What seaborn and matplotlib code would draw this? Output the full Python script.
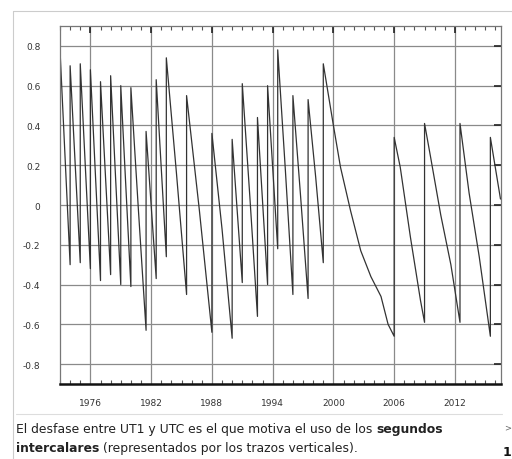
import matplotlib
matplotlib.use("Agg")
import matplotlib.pyplot as plt
from matplotlib.lines import Line2D
from matplotlib.ticker import MultipleLocator, FixedLocator
import seaborn as sns
import pandas as pd

# UT1-UTC (s); repeated years mark the leap-second jumps (before, after)
years = [1973.0, 1974.0, 1974.0, 1975.0, 1975.0, 1976.0, 1976.0, 1977.0, 1977.0,
         1978.0, 1978.0, 1979.0, 1979.0, 1980.0, 1980.0, 1980.75, 1981.5, 1981.5,
         1982.5, 1982.5, 1983.5, 1983.5, 1984.5, 1985.5, 1985.5, 1986.75, 1988.0,
         1988.0, 1989.0, 1990.0, 1990.0, 1991.0, 1991.0, 1991.75, 1992.5, 1992.5,
         1993.5, 1993.5, 1994.5, 1994.5, 1995.25, 1996.0, 1996.0, 1996.75, 1997.5,
         1997.5, 1998.25, 1999.0, 1999.0, 2000.0, 2000.7, 2001.7, 2002.7, 2003.7,
         2004.7, 2005.4, 2006.0, 2006.0, 2006.6, 2007.6, 2008.6, 2009.0, 2009.0,
         2009.6, 2010.6, 2011.6, 2012.5, 2012.5, 2013.4, 2014.4, 2015.5, 2015.5,
         2016.5]
dut1 = [0.78, -0.30, 0.70, -0.29, 0.71, -0.32, 0.68, -0.38, 0.62,
        -0.35, 0.65, -0.40, 0.60, -0.41, 0.59, -0.03, -0.63, 0.37,
        -0.37, 0.63, -0.26, 0.74, 0.16, -0.45, 0.55, -0.02, -0.64,
        0.36, -0.12, -0.67, 0.33, -0.39, 0.61, 0.04, -0.56, 0.44,
        -0.40, 0.60, -0.22, 0.78, 0.18, -0.45, 0.55, 0.05, -0.47,
        0.53, 0.14, -0.29, 0.71, 0.40, 0.19, -0.03, -0.23, -0.36,
        -0.46, -0.60, -0.66, 0.34, 0.19, -0.16, -0.48, -0.59, 0.41,
        0.24, -0.05, -0.30, -0.59, 0.41, 0.06, -0.26, -0.66, 0.34,
        0.03]

x_major = [1976, 1982, 1988, 1994, 2000, 2006, 2012]
y_major = [-0.8, -0.6, -0.4, -0.2, 0, 0.2, 0.4, 0.6, 0.8]
y_labels = ["-0.8", "-0.6", "-0.4", "-0.2", "0", "0.2", "0.4", "0.6", "0.8"]

caption1 = "El desfase entre UT1 y UTC es el que motiva el uso de los "
caption1b = "segundos"
caption2b = "intercalares"
caption2 = " (representados por los trazos verticales)."

sns.set_style("white")
plt.rcParams['font.family'] = ['DejaVu Sans']

fig = plt.figure(figsize=(5.12, 4.60), dpi=100)
ax = fig.add_axes([60/512, 1-385/460, 441/512, 358/460])

df = pd.DataFrame({"year": years, "dut1": dut1})
sns.lineplot(data=df, x="year", y="dut1", estimator=None, sort=False,
             color="#333333", lw=0.9, ax=ax)

ax.set_xlim(1973.0, 2016.55)
ax.set_ylim(-0.9, 0.9)
ax.xaxis.set_major_locator(FixedLocator(x_major))
ax.xaxis.set_minor_locator(MultipleLocator(1))
ax.set_yticks(y_major)
ax.set_yticklabels(y_labels)
ax.set_xlabel("")
ax.set_ylabel("")
ax.grid(True, which="major", color="#8a8a8a", lw=0.9)
ax.tick_params(axis="both", which="major", direction="in", length=5, width=1.2,
               colors="#222222", labelsize=6.5, labelcolor="#333333",
               top=True, right=True)
ax.tick_params(axis="y", which="major", pad=14)
ax.tick_params(axis="x", which="major", pad=10)
ax.tick_params(axis="x", which="minor", direction="in", length=3, width=0.8,
               colors="#555555", top=True, bottom=True)
for s in ["left", "top", "right"]:
    ax.spines[s].set_color("#777777")
    ax.spines[s].set_linewidth(0.9)
ax.spines["bottom"].set_color("#111111")
ax.spines["bottom"].set_linewidth(1.8)

# thumbnail frame
fig.add_artist(Line2D([13/512, 1.0], [1-12/460, 1-12/460], color="#cccccc", lw=0.8))
fig.add_artist(Line2D([13/512, 13/512], [1-12/460, 0.0], color="#cccccc", lw=0.8))
fig.add_artist(Line2D([16/512, 502/512], [1-415/460, 1-415/460], color="#dddddd", lw=0.8))

fs = 8.9
t1 = fig.text(16/512, 1-430/460, caption1, fontsize=fs, color="#222222", va="center")
ax.annotate(caption1b, xy=(1, 0), xycoords=t1, va="bottom", ha="left",
            fontsize=fs, fontweight="bold", color="#222222", annotation_clip=False)
t2 = fig.text(16/512, 1-449/460, caption2b, fontsize=fs, fontweight="bold",
              color="#222222", va="center")
ax.annotate(caption2, xy=(1, 0), xycoords=t2, va="bottom", ha="left",
            fontsize=fs, color="#222222", annotation_clip=False)
fig.text(504/512, 1-428/460, ">", fontsize=6, color="#666666", va="center")
fig.text(503/512, 1-453/460, "1", fontsize=9, fontweight="bold", color="#111111", va="center")

fig.savefig("out.png", dpi=100)
